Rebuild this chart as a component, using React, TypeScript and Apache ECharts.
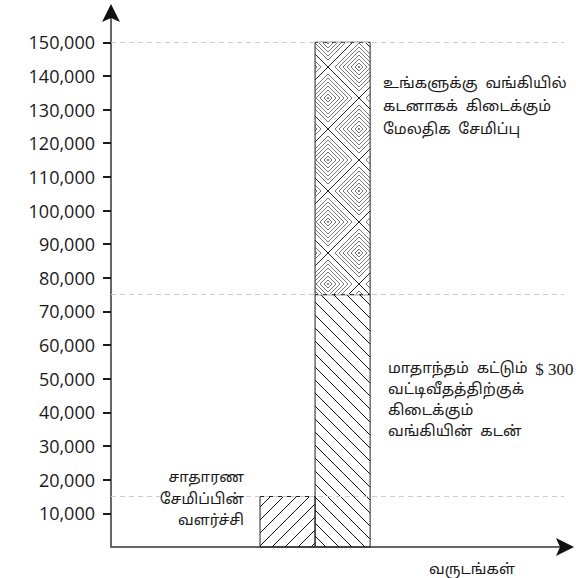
import React, { useEffect, useRef } from 'react';
import * as echarts from 'echarts';

// ---- data ----
const segmentNames = ['சாதாரண சேமிப்பின் வளர்ச்சி', 'வங்கியின் கடன்', 'மேலதிக சேமிப்பு'];
const segmentColumn = [0, 1, 1];
const segmentFrom = [0, 0, 75000];
const segmentTo = [15000, 75000, 150000];
const guideValues = [150000, 75000, 15000];
const yTickValues = [10000, 20000, 30000, 40000, 50000, 60000, 70000, 80000, 90000, 100000, 110000, 120000, 130000, 140000, 150000];
const xAxisName = 'வருடங்கள்';
const noteTop = ['உங்களுக்கு  வங்கியில்', 'கடனாகக்  கிடைக்கும்', 'மேலதிக  சேமிப்பு'];
const noteMidFirst = 'மாதாந்தம்  கட்டும்  ';
const noteMidAmount = '$ 300';
const noteMidRest = ['வட்டிவீதத்திற்குக்', 'கிடைக்கும்', 'வங்கியின்  கடன்'];
const noteLow = ['சாதாரண', 'சேமிப்பின்', 'வளர்ச்சி'];

// ---- layout constants ----
const COL_START = 32.9;
const COL_WIDTH = 12.15;
const TAMIL = "'Noto Sans Tamil', 'Lohit Tamil', 'Noto Serif Tamil', sans-serif";

function hatch(dir: number, size: number) {
  const c = document.createElement('canvas');
  c.width = size;
  c.height = size;
  const ctx = c.getContext('2d')!;
  ctx.strokeStyle = '#111';
  ctx.lineWidth = 1;
  ctx.beginPath();
  for (let k = -1; k <= 1; k++) {
    const o = k * size;
    if (dir > 0) {
      ctx.moveTo(o - 1, size + 1);
      ctx.lineTo(o + size + 1, -1);
    } else {
      ctx.moveTo(o - 1, -1);
      ctx.lineTo(o + size + 1, size + 1);
    }
  }
  ctx.stroke();
  return c;
}

function diamonds() {
  const S = 62;
  const c = document.createElement('canvas');
  c.width = S;
  c.height = S;
  const ctx = c.getContext('2d')!;
  ctx.fillStyle = '#fff';
  ctx.fillRect(0, 0, S, S);
  const centers: number[][] = [];
  for (let i = -1; i <= 1; i++) {
    for (let j = -1; j <= 1; j++) {
      centers.push([18 + S * i, 36 + S * j]);
      centers.push([49 + S * i, 5 + S * j]);
    }
  }
  const dia = (cx: number, cy: number, r: number) => {
    ctx.beginPath();
    ctx.moveTo(cx, cy - r);
    ctx.lineTo(cx + r, cy);
    ctx.lineTo(cx, cy + r);
    ctx.lineTo(cx - r, cy);
    ctx.closePath();
    ctx.stroke();
  };
  centers.forEach(([cx, cy]) => {
    ctx.strokeStyle = '#777';
    ctx.lineWidth = 1;
    for (let r = 4; r <= 27; r += 4) dia(cx, cy, r);
    ctx.fillStyle = '#444';
    ctx.fillRect(cx - 0.8, cy - 0.8, 1.6, 1.6);
  });
  centers.forEach(([cx, cy]) => {
    ctx.strokeStyle = '#222';
    ctx.lineWidth = 1;
    dia(cx, cy, 31);
  });
  return c;
}

export default function App() {
  const ref = useRef<HTMLDivElement>(null);
  useEffect(() => {
    if (!ref.current) return;
    const chart = echarts.init(ref.current, undefined, { renderer: 'svg' });
    const patterns = [
      { image: hatch(1, 13), repeat: 'repeat' },
      { image: hatch(-1, 13), repeat: 'repeat' },
      { image: diamonds(), repeat: 'repeat' },
    ];
    const data = segmentNames.map((n, i) => ({ name: n, value: [segmentColumn[i], segmentFrom[i], segmentTo[i]] }));
    const axisColor = '#666';
    chart.setOption({
      animation: false,
      grid: { left: 111, right: 12, top: 13, bottom: 31 },
      xAxis: {
        type: 'value',
        min: 0,
        max: 100,
        axisLine: { show: true, lineStyle: { color: axisColor, width: 2 } },
        axisTick: { show: false },
        axisLabel: { show: false },
        splitLine: { show: false },
      },
      yAxis: {
        type: 'value',
        min: 0,
        max: 158700,
        axisLine: { show: true, lineStyle: { color: axisColor, width: 2 } },
        axisTick: { show: true, length: 8, lineStyle: { color: '#1a1a1a', width: 2 }, customValues: yTickValues },
        axisLabel: {
          show: true,
          margin: 16,
          customValues: yTickValues,
          color: '#1a1a1a',
          fontFamily: "'Open Sans', sans-serif",
          fontSize: 18,
          formatter: (v: number) => v.toLocaleString('en-US'),
        },
        splitLine: { show: false },
      },
      series: [
        {
          type: 'line',
          data: [],
          z: 1,
          silent: true,
          markLine: {
            silent: true,
            symbol: ['none', 'none'],
            label: { show: false },
            lineStyle: { color: '#ccc', type: [5, 4], width: 1 },
            data: guideValues.map((v) => ({ yAxis: v })),
          },
        },
        {
          type: 'custom',
          z: 3,
          data,
          renderItem: (params: any, api: any) => {
            const col = api.value(0);
            const x0 = COL_START + col * COL_WIDTH;
            const p1 = api.coord([x0, api.value(1)]);
            const p2 = api.coord([x0 + COL_WIDTH, api.value(2)]);
            return {
              type: 'rect',
              shape: { x: p1[0], y: p2[1], width: p2[0] - p1[0], height: p1[1] - p2[1] },
              style: { fill: patterns[params.dataIndex], stroke: '#222', lineWidth: 1 },
            };
          },
        },
      ],
      graphic: [
        {
          type: 'polygon',
          z: 20,
          shape: { points: [[111, 4], [120, 22], [111, 18], [102, 22]] },
          style: { fill: '#111' },
        },
        {
          type: 'polygon',
          z: 20,
          shape: { points: [[574, 547], [556, 556], [560, 547], [556, 538]] },
          style: { fill: '#111' },
        },
        {
          type: 'text',
          x: 383,
          y: 73,
          z: 10,
          style: { text: noteTop.join('\n'), font: `15px ${TAMIL}`, lineHeight: 23, fill: '#1a1a1a' },
        },
        {
          type: 'text',
          x: 388,
          y: 359,
          z: 10,
          style: {
            text: `{t|${noteMidFirst}}{s|${noteMidAmount}}\n` + noteMidRest.map((l) => `{t|${l}}`).join('\n'),
            rich: {
              t: { fontFamily: TAMIL, fontSize: 15, lineHeight: 21, fill: '#1a1a1a' },
              s: { fontFamily: "'Liberation Serif', serif", fontSize: 17, lineHeight: 21, fill: '#1a1a1a' },
            },
          },
        },
        {
          type: 'text',
          x: 244,
          y: 468,
          z: 10,
          style: {
            text: noteLow.join('\n'),
            font: `15px ${TAMIL}`,
            lineHeight: 21.5,
            fill: '#1a1a1a',
            align: 'right',
            backgroundColor: '#fff',
          },
        },
        {
          type: 'text',
          x: 472,
          y: 570,
          z: 10,
          style: { text: xAxisName, font: `15px ${TAMIL}`, fill: '#1a1a1a', align: 'center', verticalAlign: 'middle' },
        },
      ],
    });
    return () => chart.dispose();
  }, []);
  return <div ref={ref} style={{ position: 'fixed', left: 0, top: 0, width: 576, height: 578, background: '#fff' }} />;
}
